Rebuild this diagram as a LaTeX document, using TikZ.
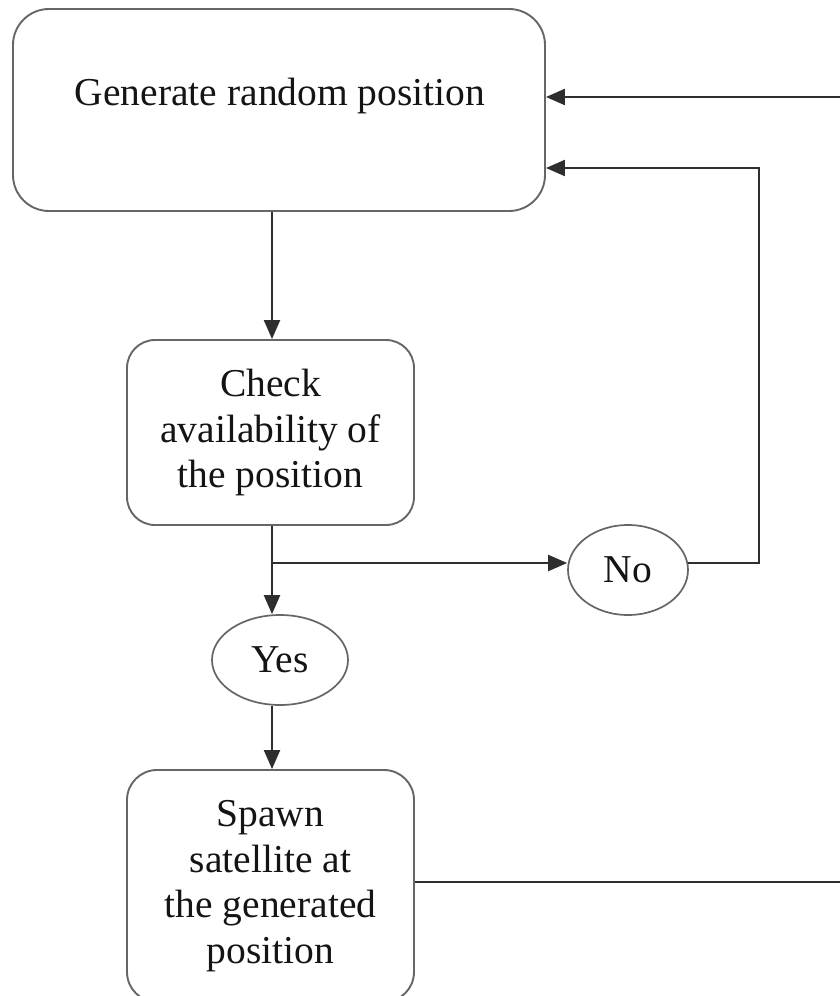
\documentclass[tikz,border=0pt]{standalone}
\usepackage{fontspec}
\setmainfont{Liberation Serif}
\usetikzlibrary{arrows.meta,shapes.geometric}
\begin{document}
\begin{tikzpicture}[x=1pt,y=-1pt,
  txt/.style={font=\fontsize{39.5}{45.5}\selectfont, align=center, text=black!92},
  flowbox/.style={txt, draw=black!60, line width=1.9pt, rectangle,
    rounded corners=#1, inner sep=0pt},
  answer/.style={txt, draw=black!60, line width=1.7pt, ellipse, inner sep=0pt},
  link/.style={draw=black!82, line width=2.2pt},
  arr/.style={link, -{Triangle[length=19pt,width=16pt]}}
]
% page area
\fill[white] (0,0) rectangle (840,996);
\useasboundingbox (0,0) rectangle (840,996);
\begin{scope}
\clip (0,0) rectangle (840,996);

% boxes
\node[flowbox=36pt, minimum width=532pt, minimum height=202pt] (gen) at (279,110) {};
\node[txt, anchor=base] (gentext) at (280,105) {Generate random position};
\node[flowbox=28pt, minimum width=287pt, minimum height=185pt] (check) at (270.5,432.5)
  {Check\\availability of\\the position};
\node[flowbox=30pt, minimum width=287pt, minimum height=232pt] (spawn) at (270.5,886)
  {Spawn\\satellite at\\the generated\\position};

% decisions
\node[answer, minimum width=136pt, minimum height=90pt] (yes) at (280,660) {Yes};
\node[answer, minimum width=120pt, minimum height=90pt] (no) at (628,570) {No};

% routing points
\coordinate (split) at (272,563);
\coordinate (lp) at (759,168);
\coordinate (r1) at (840,97);
\coordinate (r2) at (840,882);

% main flow
\draw[arr] (gen.south -| split) -- (check.north -| split);
\draw[arr] (check.south -| split) -- (yes.north -| split);
\draw[arr] (split) -- (split -| no.west);
\draw[arr] (yes.south -| split) -- (spawn.north -| split);

% retry loop
\draw[arr] (no.7) -| (lp) -- (gen.east |- lp);

% return path along the right edge
\draw[arr] (r1) -- (gen.east |- r1);
\draw[link] (spawn.east |- r2) -- (r2);
\end{scope}
\end{tikzpicture}
\end{document}
